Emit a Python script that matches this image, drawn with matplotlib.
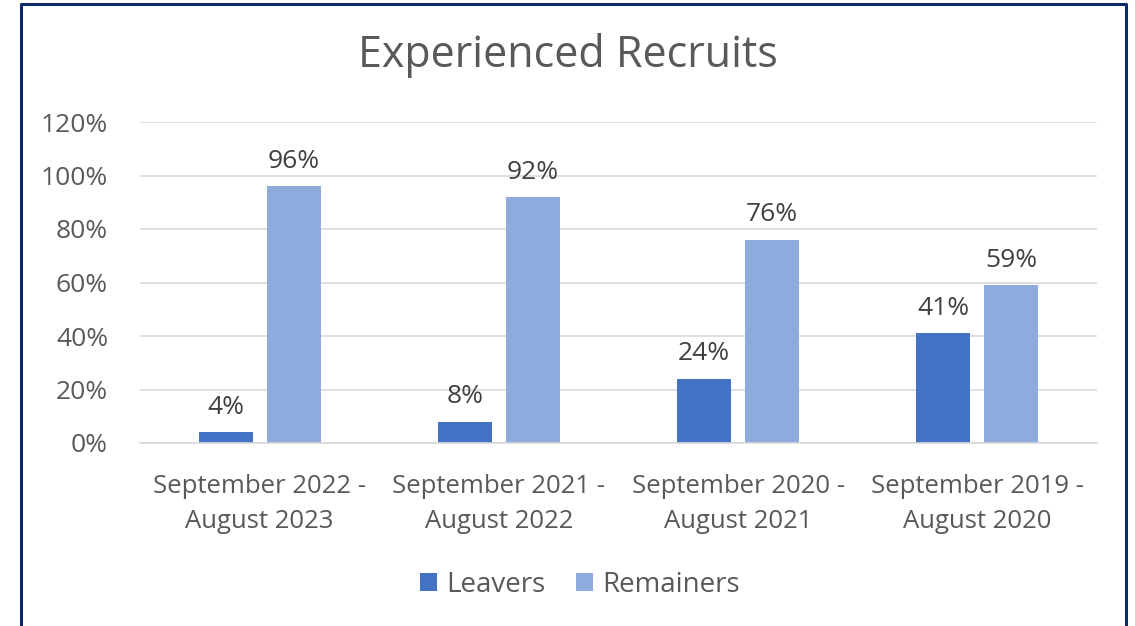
import matplotlib.pyplot as plt
import numpy as np

categories = ["September 2022 -\nAugust 2023", "September 2021 -\nAugust 2022",
              "September 2020 -\nAugust 2021", "September 2019 -\nAugust 2020"]
leavers = [4, 8, 24, 41]
remainers = [96, 92, 76, 59]
series_names = ["Leavers", "Remainers"]
yticks = [0, 20, 40, 60, 80, 100, 120]

plt.rcParams['font.family'] = ['Open Sans', 'DejaVu Sans']
txt = '#595959'

fig = plt.figure(figsize=(11.35, 6.26), dpi=100)
ax = fig.add_axes([140/1135, 1 - 443/626, 957/1135, 321/626])

x = np.arange(len(categories))
w = 0.226
off = 0.142
b1 = ax.bar(x - off, leavers, w, color='#4472C4', label=series_names[0])
b2 = ax.bar(x + off, remainers, w, color='#8FAADC', label=series_names[1])

for bars in (b1, b2):
    for r in bars:
        ax.text(r.get_x() + r.get_width() / 2, r.get_height() + 4.6, f"{r.get_height():g}%",
                ha='center', va='bottom', fontsize=19, color='#404040')

ax.set_xlim(-0.5, len(categories) - 0.5)
ax.set_ylim(0, 120)
ax.set_yticks(yticks)
ax.set_yticklabels([f"{v}%" for v in yticks])
ax.set_xticks(x)
ax.set_xticklabels(categories, linespacing=1.55)
ax.tick_params(axis='both', length=0, labelcolor=txt)
ax.tick_params(axis='y', pad=23, labelsize=19)
ax.tick_params(axis='x', pad=22, labelsize=18.5)
ax.grid(axis='y', color='#d9d9d9', linewidth=1.2)
ax.set_axisbelow(True)
for s in ('top', 'right', 'left'):
    ax.spines[s].set_visible(False)
ax.spines['bottom'].set_color('#d9d9d9')
ax.spines['bottom'].set_linewidth(1.2)

fig.text(0.5, 1 - 56/626, "Experienced Recruits", ha='center', va='center', fontsize=31, color=txt)

fig.legend(handles=[b1, b2], loc='center', bbox_to_anchor=(580/1135, 1 - 585/626), ncol=2,
           frameon=False, fontsize=20, labelcolor=txt, handlelength=0.6, handleheight=0.6,
           columnspacing=1.1, handletextpad=0.35)

# outer frame (no bottom edge visible)
fig.add_artist(plt.Line2D([21/1135, 21/1135, 1126/1135, 1126/1135],
                          [0, 1 - 4/626, 1 - 4/626, 0], transform=fig.transFigure,
                          color='#0a2a6b', linewidth=2.2))

fig.savefig('out.png', dpi=100)
